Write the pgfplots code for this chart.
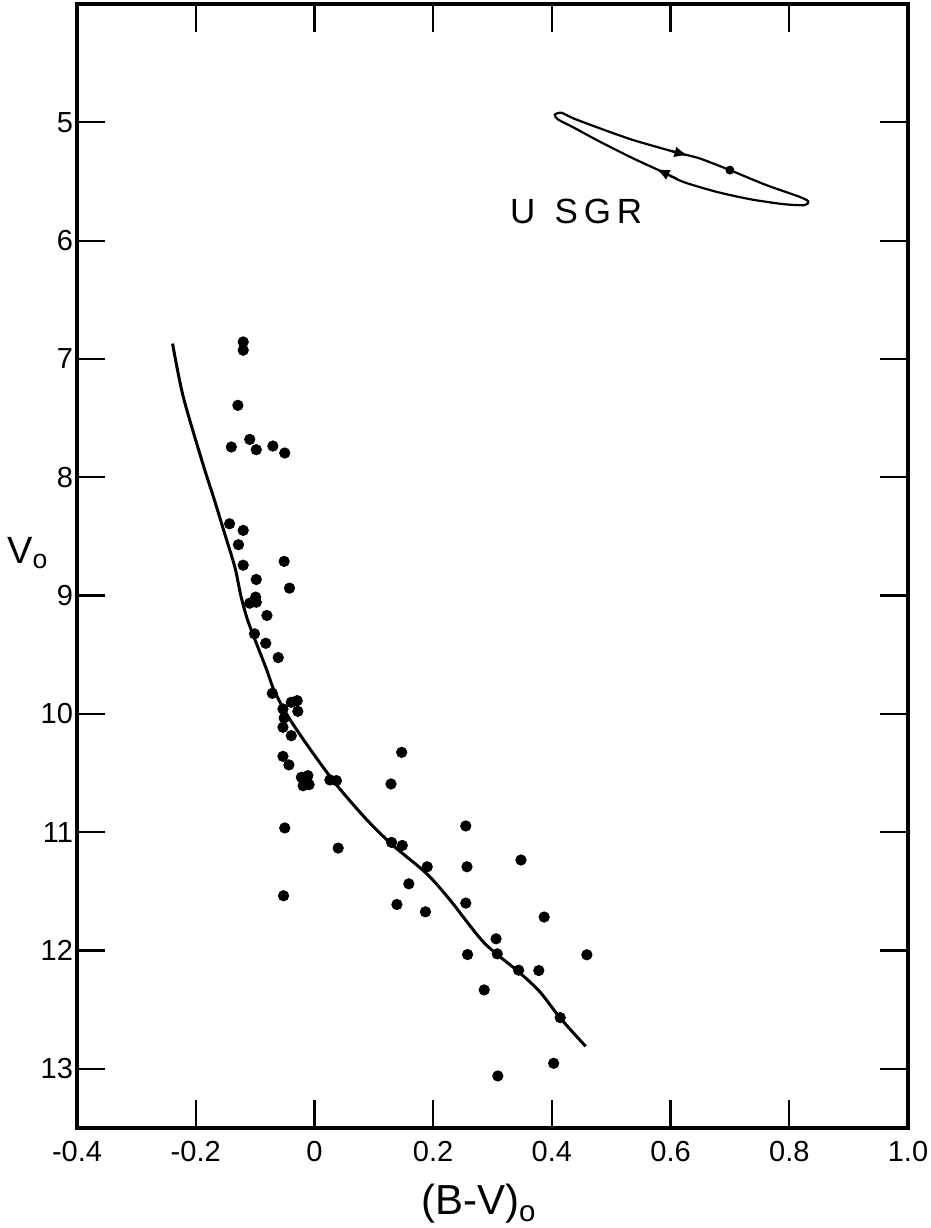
\documentclass[border=0pt]{standalone}
\usepackage{fontspec}
\setmainfont{Liberation Sans}
\usepackage{pgfplots}
\usepackage{pgfplotstable}
\pgfplotsset{compat=1.18}
\usetikzlibrary{arrows.meta}

\pgfplotstableread{
x y
-0.120 6.856
-0.120 6.926
-0.129 7.392
-0.140 7.744
-0.109 7.680
-0.098 7.767
-0.070 7.736
-0.050 7.795
-0.143 8.393
-0.120 8.449
-0.128 8.570
-0.120 8.743
-0.051 8.711
-0.098 8.864
-0.042 8.937
-0.099 9.013
-0.109 9.064
-0.098 9.056
-0.080 9.168
-0.101 9.323
-0.082 9.403
-0.061 9.524
-0.071 9.826
-0.039 9.902
-0.029 9.888
-0.053 9.958
-0.028 9.978
-0.051 10.034
-0.053 10.113
-0.039 10.184
-0.053 10.359
-0.043 10.431
-0.022 10.536
-0.011 10.522
-0.019 10.607
-0.009 10.598
0.026 10.558
0.037 10.564
-0.050 10.964
0.040 11.134
-0.052 11.537
0.147 10.325
0.129 10.592
0.255 10.947
0.130 11.086
0.148 11.112
0.190 11.292
0.257 11.292
0.348 11.235
0.159 11.436
0.139 11.611
0.187 11.673
0.255 11.599
0.387 11.717
0.306 11.901
0.258 12.034
0.308 12.028
0.459 12.036
0.344 12.166
0.378 12.169
0.286 12.333
0.414 12.567
0.403 12.953
0.309 13.060
}\stars

\pgfplotstableread{
x y
-0.239 6.87
-0.221 7.32
-0.188 7.885
-0.168 8.20
-0.151 8.48
-0.134 8.76
-0.124 9.00
-0.113 9.20
-0.098 9.40
-0.081 9.62
-0.068 9.80
-0.047 10.00
-0.025 10.17
0.003 10.37
0.031 10.56
0.059 10.73
0.093 10.92
0.132 11.11
0.189 11.35
0.228 11.57
0.262 11.79
0.285 11.93
0.307 12.03
0.344 12.18
0.380 12.35
0.414 12.57
0.457 12.81
}\zams

\pgfplotstableread{
x y
0.615 5.262
0.649 5.305
0.700 5.404
0.761 5.530
0.817 5.629
0.832 5.668
0.826 5.700
0.789 5.691
0.733 5.649
0.677 5.587
0.621 5.503
0.582 5.409
0.537 5.305
0.481 5.164
0.436 5.042
0.410 4.975
0.405 4.935
0.416 4.919
0.436 4.966
0.481 5.051
0.537 5.150
0.615 5.262
}\usgr

\begin{document}
\begin{tikzpicture}
\begin{axis}[
  width=415.5pt, height=562pt, scale only axis,
  xmin=-0.4, xmax=1.0, ymin=4, ymax=13.5, y dir=reverse,
  xtick={-0.4,-0.2,0,0.2,0.4,0.6,0.8,1.0},
  xticklabels={-0.4,-0.2,0,0.2,0.4,0.6,0.8,1.0},
  ytick={5,6,7,8,9,10,11,12,13},
  yticklabels={5,6,7,8,9,10,11,12,13},
  tick align=inside, major tick length=14pt,
  tick style={line width=1.1pt, black},
  axis line style={line width=2.3pt},
  ticklabel style={font=\fontsize{14.5}{16}\selectfont},
  xticklabel style={yshift=-3pt},
  yticklabel style={xshift=1.5pt},
  clip=false,
]
\addplot[black, line width=1.5pt, smooth, tension=0.5] table {\zams};
\addplot[black, only marks, mark=*, mark size=2.6pt] table {\stars};
\addplot[black, line width=1.1pt, smooth, tension=0.4] table {\usgr};
\addplot[black, line width=1.1pt, -{Latex[length=7pt,width=5.5pt]}] coordinates {(0.600,5.240) (0.630,5.281)};
\addplot[black, line width=1.1pt, -{Latex[length=7pt,width=5.5pt]}] coordinates {(0.610,5.476) (0.575,5.393)};
\addplot[black, only marks, mark=*, mark size=2pt] coordinates {(0.700,5.404)};
\node[font=\fontsize{17.5}{20}\selectfont] at (axis cs:0.441,5.756) {U\hspace{0.55em}S\,G\,R};
\node[font=\fontsize{19}{22}\selectfont] at (axis cs:-0.483,8.64) {V\textsubscript{o}};
\node[font=\fontsize{21}{24}\selectfont] at (axis cs:0.277,13.5) [yshift=-38pt] {(B-V)\textsubscript{o}};
\coordinate (bl) at (axis cs:-0.4,13.5);
\coordinate (tr) at (axis cs:1.0,4);
\end{axis}
\pgfresetboundingbox
\path[use as bounding box] ([xshift=-38.5pt,yshift=-50pt]bl) rectangle ([xshift=11pt,yshift=2pt]tr);
\end{tikzpicture}
\end{document}
